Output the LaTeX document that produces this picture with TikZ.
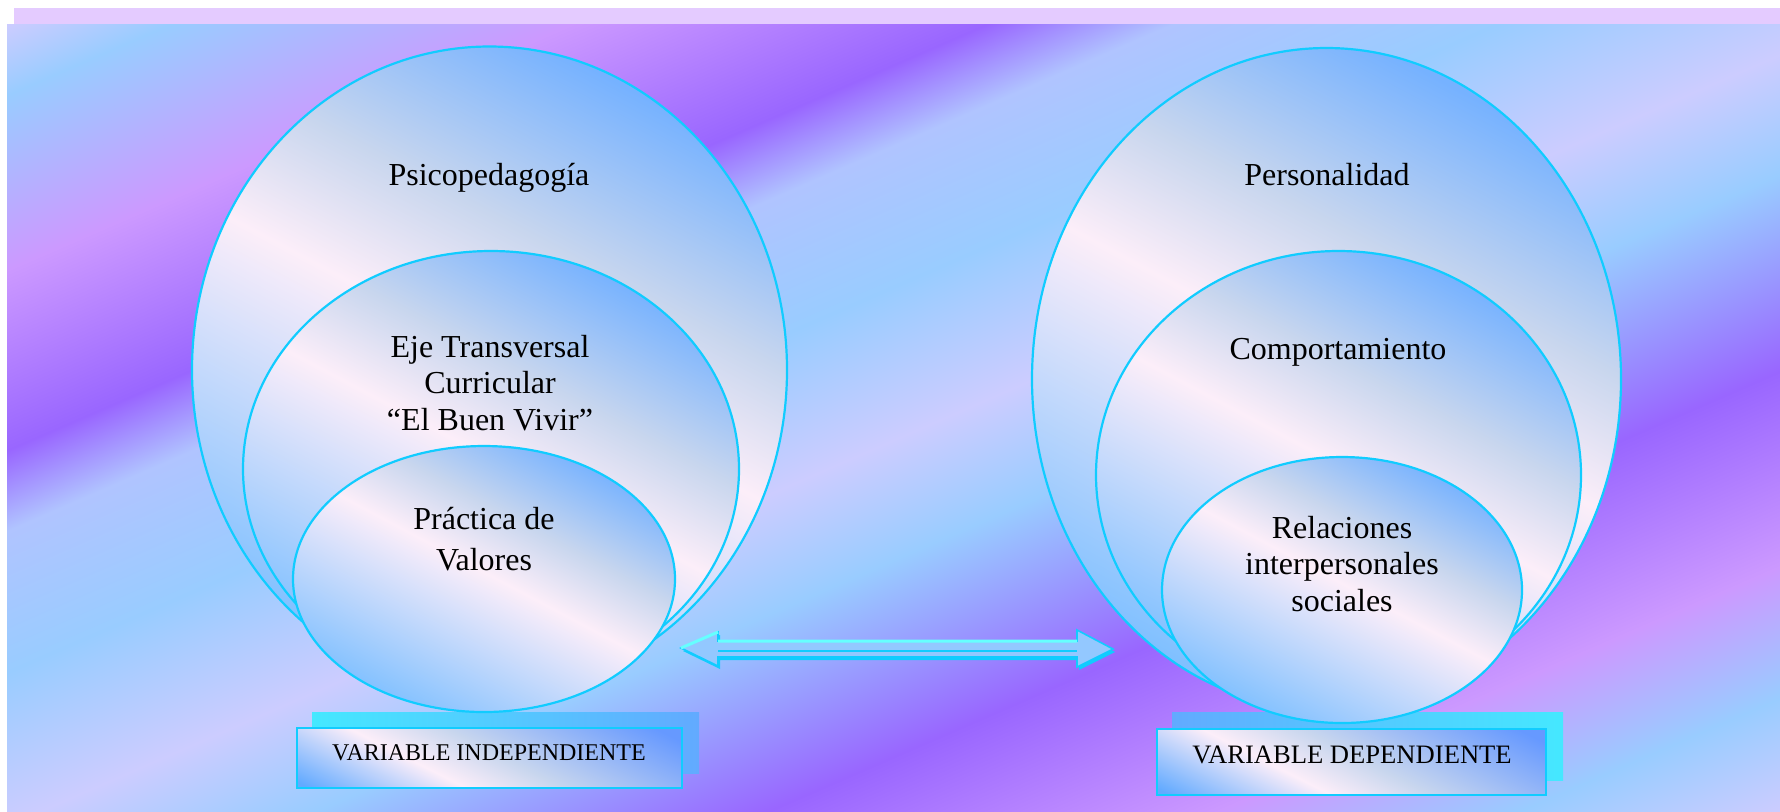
\documentclass[tikz,border=0pt]{standalone}
\usepackage{fontspec}
\setmainfont{Liberation Serif}
\usepackage{tikz}

\definecolor{lavender}{HTML}{CCCCFF}
\definecolor{lavblue}{HTML}{B0C4FF}
\definecolor{skyblue}{HTML}{99CCFF}
\definecolor{orchid}{HTML}{CC99FF}
\definecolor{bgviolet}{HTML}{9966FF}
\definecolor{stripe}{HTML}{E4CBFF}
\definecolor{rim}{HTML}{11CCFF}
\definecolor{glow}{HTML}{66FFFF}
\definecolor{paleblue}{HTML}{80C0FF}
\definecolor{deepblue}{HTML}{76B2FF}
\definecolor{blush}{HTML}{FCEEF9}
\definecolor{mist}{HTML}{C8D6EE}
\definecolor{tagblueA}{HTML}{62AAFF}
\definecolor{tagblueB}{HTML}{6699FF}
\definecolor{arrowblue}{HTML}{93C8FF}

\pgfdeclarehorizontalshading{backdrop}{1100pt}{color(0pt)=(lavender); color(117.9pt)=(lavender);
  color(150.4pt)=(skyblue); color(230.4pt)=(orchid); color(313.4pt)=(bgviolet); color(350.4pt)=(lavblue);
  color(415.4pt)=(skyblue); color(485.4pt)=(lavender); color(540.4pt)=(skyblue); color(630.4pt)=(bgviolet);
  color(720.4pt)=(orchid); color(780.4pt)=(skyblue); color(832.4pt)=(lavender); color(950pt)=(lavender)}
\pgfdeclarehorizontalshading{bubbleshade}{100bp}{color(0bp)=(paleblue); color(25bp)=(paleblue);
  color(51bp)=(blush); color(61bp)=(mist); color(75bp)=(deepblue); color(100bp)=(deepblue)}
\pgfdeclarehorizontalshading{tagshade}{100bp}{color(0bp)=(tagblueA); color(18bp)=(tagblueA);
  color(39bp)=(blush); color(52bp)=(mist); color(80bp)=(tagblueB); color(100bp)=(tagblueB)}

\begin{document}
\begin{tikzpicture}[x=0.5pt,y=-0.5pt,
    bubble/.style={shading=bubbleshade,shading angle=62,draw=rim,line width=1.1pt},
    words/.style={font=\fontsize{16}{18.3}\selectfont,align=center,inner sep=0pt},
    tagbox/.style={shading=tagshade,shading angle=63,draw=rim,line width=1.3pt},
    tagtext/.style={inner sep=0pt}]
    \useasboundingbox (0,0) rectangle (1780,811);
    \fill[stripe] (14,8) rectangle (1780,24);
    \begin{scope}
        \clip (7,24) rectangle (1780,811);
        \node[rotate=-66.5,inner sep=0pt] (backdrop) at (893.5,417.5) {\pgfuseshading{backdrop}};
    \end{scope}

    \shade[left color=cyan!55!skyblue,right color=tagblueA] (312,712) rectangle (699,773);
    \shade[left color=tagblueA,right color=cyan!55!skyblue] (1172,712) rectangle (1563,780);
    \path[tagbox] (297,728) rectangle (682,788);
    \path[tagbox] (1157,729) rectangle (1546,795);
    \node[tagtext,font=\fontsize{12}{14}\selectfont] (indep) at (489,753) {VARIABLE INDEPENDIENTE};
    \node[tagtext,font=\fontsize{13.3}{15}\selectfont] (dep) at (1352,755) {VARIABLE DEPENDIENTE};

    \path[bubble] (489.5,370) ellipse [x radius=297.5,y radius=323.5];
    \path[bubble] (491,469) ellipse [x radius=248,y radius=218];
    \path[bubble] (484,579) ellipse [x radius=191,y radius=133];
    \path[bubble] (1326.5,379) ellipse [x radius=294.5,y radius=331];
    \path[bubble] (1338.5,475) ellipse [x radius=242.5,y radius=224];
    \path[bubble] (1342,590) ellipse [x radius=180,y radius=133];

    \coordinate (arrL) at (681,648);
    \coordinate (arrR) at (1113,649);
    \fill[rim] ([shift={(2,3)}]arrL) -- ++(37,-16) -- ++(0,9) -- ++(359,0) -- ++(0,-11)
        -- ([shift={(2,3)}]arrR) -- ++(-36,18) -- ++(0,-10) -- ++(-359,0) -- ++(0,9) -- cycle;
    \filldraw[fill=arrowblue,draw=rim,line width=0.8pt] (arrL) -- ++(37,-16) -- ++(0,9) -- ++(359,0) -- ++(0,-11)
        -- (arrR) -- ++(-36,18) -- ++(0,-10) -- ++(-359,0) -- ++(0,9) -- cycle;
    \draw[glow,line width=1.5pt] (arrL) -- ++(37,-16) ++(0,9) -- ++(359,0);
    \draw[rim,line width=1pt] ([shift={(37,3)}]arrL) -- ([shift={(-36,2)}]arrR);

    \node[words,anchor=base] (psico) at (489,185) {Psicopedagogía};
    \node[words] (eje) at (490,383) {Eje Transversal\\Curricular\\“El Buen Vivir”};
    \node[words,font=\fontsize{16}{20.5}\selectfont] (practica) at (484,539) {Práctica de\\Valores};
    \node[words,anchor=base] (perso) at (1327,185) {Personalidad};
    \node[words,anchor=base] (compo) at (1338,359) {Comportamiento};
    \node[words] (rel) at (1342,564) {Relaciones\\interpersonales\\sociales};
\end{tikzpicture}
\end{document}
